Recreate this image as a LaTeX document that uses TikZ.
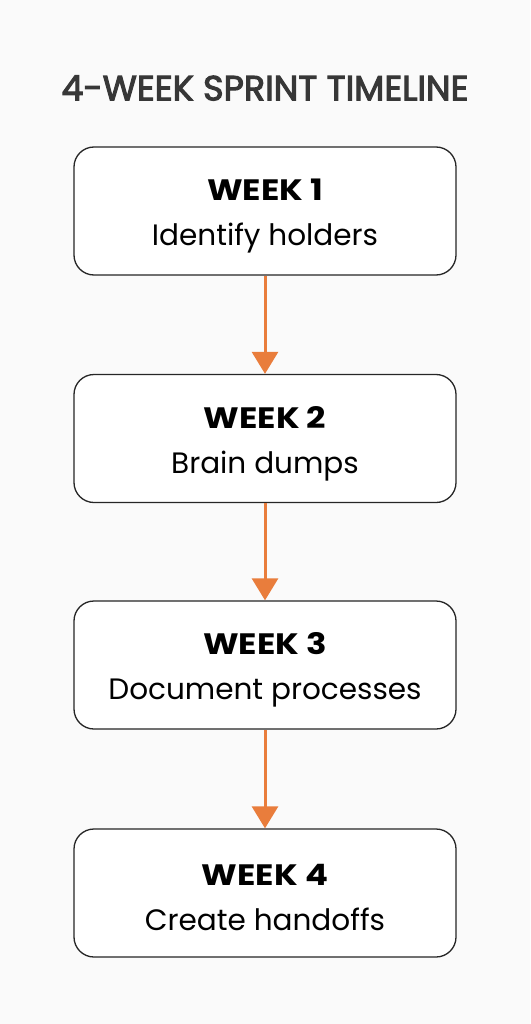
\documentclass[tikz,border=0pt]{standalone}
\usepackage{fontspec}
\setmainfont{Poppins}
\newfontfamily\titlefont[FakeBold=3]{Poppins}
\newfontfamily\weekfont[FakeStretch=1.15]{Poppins}
\usepackage{tikz}
\usetikzlibrary{arrows.meta, positioning}
\definecolor{sprintorange}{RGB}{233, 125, 60}
\definecolor{titlegray}{RGB}{55, 55, 55}
\definecolor{pagebg}{RGB}{250, 250, 250}

\begin{document}
\begin{tikzpicture}[x=1pt, y=-1pt,
  weekbox/.style={draw=black!85, fill=white, line width=1.3pt, rounded corners=20pt,
    minimum width=382pt, minimum height=128pt},
  weektext/.style={align=center, font=\fontsize{29.5}{45}\selectfont},
  flow/.style={-{Triangle[width=26pt, length=22pt]}, line width=3pt, sprintorange}]
  % Background
  \fill[pagebg] (0, 0) rectangle (530, 1024);
  \useasboundingbox (0, 0) rectangle (530, 1024);

  % Title
  \node[font=\fontsize{35}{40}\titlefont, text=titlegray] (title) at (265, 88) {4-WEEK SPRINT TIMELINE};

  % Weeks
  \node[weekbox] (wk1) at (265, 211) {};
  \node[weekbox] (wk2) at (265, 438.5) {};
  \node[weekbox] (wk3) at (265, 665) {};
  \node[weekbox] (wk4) at (265, 893) {};
  \node[weektext] (wk1txt) at ([yshift=-5pt]wk1) {{\weekfont\bfseries WEEK 1}\\Identify holders};
  \node[weektext] (wk2txt) at ([yshift=-5pt]wk2) {{\weekfont\bfseries WEEK 2}\\Brain dumps};
  \node[weektext] (wk3txt) at ([yshift=-5pt]wk3) {{\weekfont\bfseries WEEK 3}\\Document processes};
  \node[weektext] (wk4txt) at ([yshift=-5pt]wk4) {{\weekfont\bfseries WEEK 4}\\Create handoffs};

  % Arrows
  \draw[flow] (wk1) -- (wk2);
  \draw[flow] (wk2) -- (wk3);
  \draw[flow] (wk3) -- (wk4);
\end{tikzpicture}
\end{document}
